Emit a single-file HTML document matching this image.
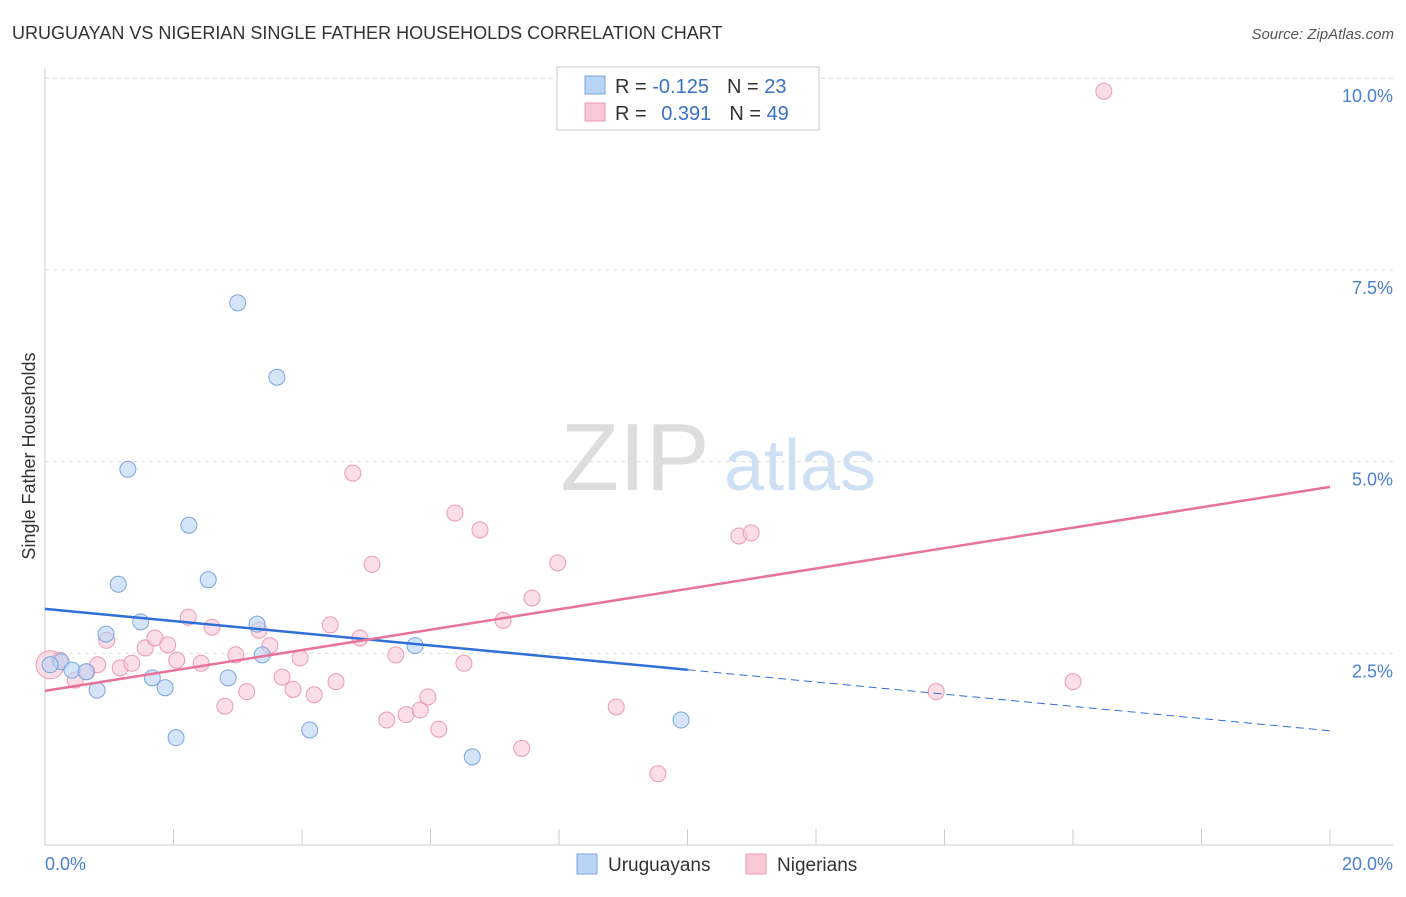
<!DOCTYPE html>
<html><head><meta charset="utf-8"><style>
body{margin:0;background:#fff;font-family:"Liberation Sans",sans-serif;}
svg text{font-family:"Liberation Sans",sans-serif;}
</style></head><body>
<svg id="chart" width="1406" height="892" xmlns="http://www.w3.org/2000/svg">
<text x="12" y="39" font-size="18" fill="#333">URUGUAYAN VS NIGERIAN SINGLE FATHER HOUSEHOLDS CORRELATION CHART</text>
<text x="1394" y="39" font-size="15" fill="#555" text-anchor="end" font-style="italic">Source: ZipAtlas.com</text>
<text x="35" y="456" font-size="18" fill="#333" text-anchor="middle" transform="rotate(-90 35 456)">Single Father Households</text>
<g>
<text x="635" y="490" font-size="96" fill="#ddd" text-anchor="middle" font-family="Liberation Serif">ZIP</text>
<text x="800" y="490" font-size="72" fill="#cfe0f5" text-anchor="middle">atlas</text>
</g>
<g id="grid"></g><g id="axes"></g><g id="marks"></g>
<g>
<rect x="557" y="67" width="262" height="63" fill="#fff" stroke="#ccc"/>
<rect x="585" y="76" width="20" height="18" fill="#b9d3f5" stroke="#7aa5e0"/>
<rect x="585" y="103" width="20" height="18" fill="#f9c8d7" stroke="#eb9ab5"/>
<text x="615" y="93" font-size="20" fill="#333">R = <tspan fill="#3a70c8">-0.125</tspan><tspan dx="18">N = </tspan><tspan fill="#3a70c8">23</tspan></text>
<text x="615" y="120" font-size="20" fill="#333">R = <tspan fill="#3a70c8" dx="9">0.391</tspan><tspan dx="18">N = </tspan><tspan fill="#3a70c8">49</tspan></text>
</g>
<g>
<rect x="577" y="854" width="20" height="20" fill="#b9d3f5" stroke="#7aa5e0"/>
<text x="608" y="871" font-size="19" fill="#333">Uruguayans</text>
<rect x="746" y="854" width="20" height="20" fill="#f9c8d7" stroke="#eb9ab5"/>
<text x="777" y="871" font-size="19" fill="#333">Nigerians</text>
</g>
</svg>
<script>
const yTicks=[2.5,5,7.5,10];
const yTickLabels=["2.5%","5.0%","7.5%","10.0%"];
const xTicks=[0,2,4,6,8,10,12,14,16,18,20];
const xLabels=["0.0%","20.0%"];
const uruX=[0.25,0.42,0.64,0.81,0.95,1.14,1.29,1.49,1.67,1.87,2.04,2.24,2.54,2.85,3.00,3.30,3.38,3.61,4.12,5.76,6.65,9.90,0.08];
const uruY=[2.39,2.28,2.26,2.02,2.75,3.40,4.90,2.91,2.18,2.05,1.40,4.17,3.46,2.18,7.07,2.88,2.48,6.10,1.50,2.60,1.15,1.63,2.35];
const nigX=[0.08,0.23,0.47,0.65,0.82,0.96,1.17,1.35,1.56,1.71,1.91,2.05,2.23,2.43,2.60,2.80,2.97,3.14,3.33,3.50,3.69,3.86,3.97,4.19,4.44,4.53,4.79,4.90,5.09,5.32,5.46,5.62,5.84,5.96,6.13,6.38,6.52,6.77,7.13,7.42,7.58,7.98,8.89,9.54,10.80,10.99,13.87,16.00,16.48];
const nigY=[2.35,2.41,2.15,2.26,2.35,2.67,2.31,2.37,2.57,2.70,2.61,2.41,2.97,2.37,2.84,1.81,2.48,2.00,2.80,2.60,2.19,2.03,2.44,1.96,2.87,2.13,4.85,2.70,3.66,1.63,2.48,1.70,1.76,1.93,1.51,4.33,2.37,4.11,2.93,1.26,3.22,3.68,1.80,0.93,4.03,4.07,2.00,2.13,9.83];
const uruTrend=[3.08,1.49];
const nigTrend=[2.01,4.67];
const uruSolidEnd=10;
const NS="http://www.w3.org/2000/svg";
const X=v=>45+v/20*1285;
const Y=v=>845-v/2.5*191.7;
function mk(parent,tag,attrs){const e=document.createElementNS(NS,tag);for(const k in attrs)e.setAttribute(k,attrs[k]);document.getElementById(parent).appendChild(e);return e;}
yTicks.forEach((t,i)=>{
 const l=mk('grid','line',{x1:45,x2:1393,y1:Y(t),y2:Y(t),stroke:'#ddd','stroke-dasharray':'4,4'});
 
 
 const tx=mk('grid','text',{x:1393,y:Y(t)+24,'font-size':18,fill:'#4a7fd4','text-anchor':'end'});
 tx.textContent=yTickLabels[i];
 
 
});
const ax=mk('axes','line',{x1:45,x2:1393,y1:845,y2:845,stroke:'#ccc'});


const ay=mk('axes','line',{x1:45,x2:45,y1:68,y2:845,stroke:'#ccc'});


xTicks.forEach(t=>{const l=mk('axes','line',{x1:X(t),x2:X(t),y1:829,y2:845,stroke:'#ccc'});
 
 });
[[0,'start',45],[20,'end',1393]].forEach((d,i)=>{const t=mk('axes','text',{x:d[2],y:870,'font-size':18,fill:'#4a7fd4','text-anchor':d[1]});t.textContent=xLabels[i];
 
 });
nigX.forEach((x,i)=>{const c=mk('marks','circle',{cx:X(x),cy:Y(nigY[i]),r:i==0?14:8,fill:'#f9c8d7','fill-opacity':0.6,stroke:'#eb9ab5','stroke-width':1});
 
 });
uruX.forEach((x,i)=>{const c=mk('marks','circle',{cx:X(x),cy:Y(uruY[i]),r:8,fill:'#b9d3f5','fill-opacity':0.6,stroke:'#7aa5e0','stroke-width':1});
 
 });
const uAt=x=>uruTrend[0]+(uruTrend[1]-uruTrend[0])*x/20;
let l1=mk('marks','line',{x1:X(0),y1:Y(uAt(0)),x2:X(uruSolidEnd),y2:Y(uAt(uruSolidEnd)),stroke:'#2f6fd6','stroke-width':2.5});


let l2=mk('marks','line',{x1:X(uruSolidEnd),y1:Y(uAt(uruSolidEnd)),x2:X(20),y2:Y(uAt(20)),stroke:'#2f6fd6','stroke-width':1,'stroke-dasharray':'8,5'});


let l3=mk('marks','line',{x1:X(0),y1:Y(nigTrend[0]),x2:X(20),y2:Y(nigTrend[1]),stroke:'#e8739a','stroke-width':2.5});


</script>
</body></html>
